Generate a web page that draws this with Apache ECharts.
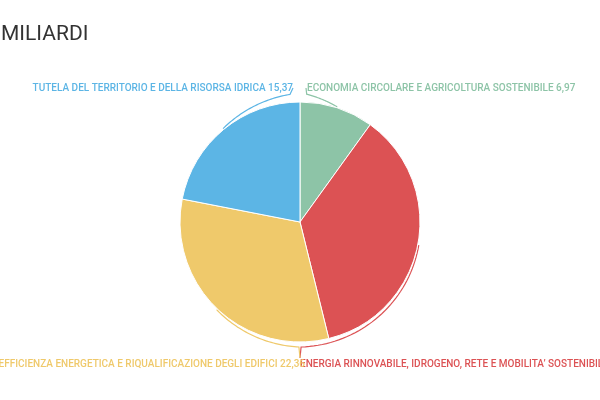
<!DOCTYPE html>
<html>
<head>
<meta charset="utf-8">
<script src="https://cdn.jsdelivr.net/npm/echarts@6/dist/echarts.min.js"></script>
<style>
  html, body { margin: 0; padding: 0; background: #fff; }
  #main { width: 600px; height: 400px; }
</style>
</head>
<body>
<div id="main"></div>
<script>
var titleText = 'MILIARDI';
var categories = [
  'ECONOMIA CIRCOLARE E AGRICOLTURA SOSTENIBILE',
  'ENERGIA RINNOVABILE, IDROGENO, RETE E MOBILITA\u2019 SOSTENIBILE',
  'EFFICIENZA ENERGETICA E RIQUALIFICAZIONE DEGLI EDIFICI',
  'TUTELA DEL TERRITORIO E DELLA RISORSA IDRICA'
];
var values = [6.97, 25.36, 22.36, 15.37];
var colors = ['#8dc4a7', '#dc5254', '#efc96b', '#5cb5e5'];

var chart = echarts.init(document.getElementById('main'));

var total = values.reduce(function (a, b) { return a + b; }, 0);

// mid angle of each slice, degrees clockwise from top
function midAngle(idx) {
  var acc = 0;
  for (var i = 0; i < idx; i++) acc += values[i];
  return (acc + values[idx] / 2) / total * 360;
}

function pt(cx, cy, R, deg) {
  var a = deg * Math.PI / 180;
  return [cx + R * Math.sin(a), cy - R * Math.cos(a)];
}

function geom() {
  var w = chart.getWidth(), h = chart.getHeight();
  return { cx: w / 2, cy: h * 0.555, r: Math.min(w, h) / 2 * 0.6 };
}

// where each label sits, and the curved guide line to it
function labelSpot(idx) {
  var g = geom();
  var m = midAngle(idx);
  var top = m < 90 || m > 270;
  var left = m > 180;
  var s = { top: top, left: left, m: m };
  if (top) {
    s.y = g.cy - g.r - 14;
    s.x = left ? g.cx - 7 : g.cx + 7;
    s.endAngle = left ? 355.5 : 3;
    s.lineEnd = [left ? g.cx - 7 : g.cx + 6, s.y];
  } else {
    s.y = g.cy + g.r + 22;
    s.x = left ? g.cx + 5 : g.cx;
    s.endAngle = left ? 180.5 : 179.5;
    s.lineEnd = [g.cx, s.y - 6];
  }
  return s;
}

function guidePoints(idx) {
  var g = geom();
  var s = labelSpot(idx);
  var a0 = s.m, a1 = s.endAngle;
  if (a1 - a0 > 180) a1 -= 360;
  if (a0 - a1 > 180) a1 += 360;
  var pts = [];
  var n = 40;
  for (var i = 0; i <= n; i++) {
    var t = i / n;
    pts.push(pt(g.cx, g.cy, g.r + 1 + (s.top ? 7 : 4) * t, a0 + (a1 - a0) * t));
  }
  pts.push(s.lineEnd);
  return pts;
}

var option = {
  backgroundColor: '#fff',
  animation: false,
  title: {
    text: titleText,
    left: -4,
    top: 19,
    textStyle: {
      fontFamily: 'Roboto',
      fontSize: 21,
      fontWeight: 'normal',
      color: '#333'
    }
  },
  color: colors,
  graphic: values.map(function (v, i) {
    return {
      type: 'polyline',
      silent: true,
      z: 1,
      shape: { points: guidePoints(i) },
      style: { fill: null, stroke: colors[i], lineWidth: 1.2 }
    };
  }),
  series: [{
    type: 'pie',
    center: ['50%', '55.5%'],
    radius: '60%',
    startAngle: 90,
    clockwise: true,
    avoidLabelOverlap: false,
    itemStyle: { borderColor: '#fff', borderWidth: 1 },
    label: {
      show: true,
      position: 'outside',
      fontFamily: 'Roboto',
      fontSize: 10,
      fontWeight: 500,
      color: 'inherit',
      formatter: function (p) {
        return p.name + ' ' + p.value.toFixed(2).replace('.', ',');
      }
    },
    labelLine: { show: false },
    labelLayout: function (params) {
      var s = labelSpot(params.dataIndex);
      return {
        x: s.x,
        y: s.y,
        align: s.left ? 'right' : 'left',
        verticalAlign: 'middle'
      };
    },
    data: categories.map(function (c, i) {
      return { name: c, value: values[i] };
    })
  }]
};

chart.setOption(option);
</script>
</body>
</html>
